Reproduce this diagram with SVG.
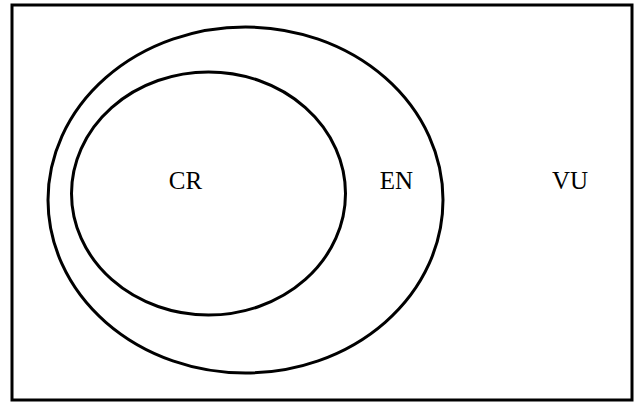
<svg xmlns="http://www.w3.org/2000/svg" width="637" height="402" viewBox="0 0 637 402">
<style>
.ln{fill:none;stroke:#000;stroke-width:3}
.t{font-family:"Liberation Serif","Times New Roman",serif;font-size:25px;fill:#000;text-anchor:middle}
</style>
<rect x="0" y="0" width="637" height="402" fill="#fff"/>
<g id="frame"><rect class="ln" x="12" y="5" width="620" height="395"/></g>
<g id="EN"><ellipse class="ln" cx="245.5" cy="200" rx="197.5" ry="173"/><text class="t" x="396.5" y="189">EN</text></g>
<g id="CR"><ellipse class="ln" cx="208.5" cy="193.5" rx="137" ry="121.5"/><text class="t" x="185.5" y="189">CR</text></g>
<g id="VU"><text class="t" x="570" y="189">VU</text></g>
<g id="connectors"></g>
</svg>
